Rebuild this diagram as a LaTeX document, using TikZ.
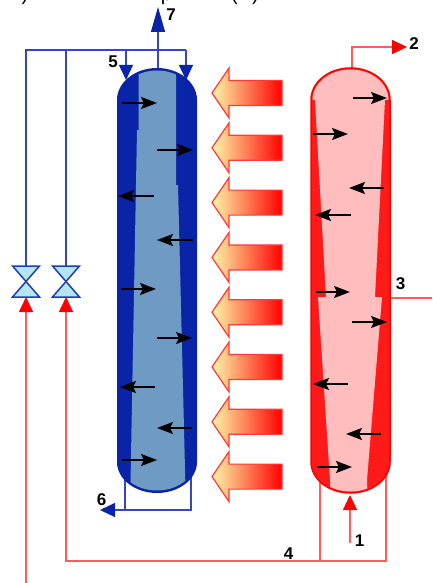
\documentclass[tikz,border=0pt]{standalone}
\usepackage{fontspec}
\setmainfont{Liberation Sans}
\usetikzlibrary{arrows.meta}
\definecolor{deepblue}{HTML}{0A24A8}
\definecolor{steel}{HTML}{6F9AC4}
\definecolor{pipeblue}{HTML}{3347C2}
\definecolor{hotred}{HTML}{FF1A1A}
\definecolor{pinkfill}{HTML}{FFBDBD}
\definecolor{pipered}{HTML}{FF5C5C}
\definecolor{valvefill}{HTML}{B3E6EE}
\definecolor{valveline}{HTML}{1F3FB0}
\definecolor{paleyellow}{HTML}{FFF6A8}
\definecolor{warmorange}{HTML}{FFDC98}
\definecolor{heatedge}{HTML}{FF3A3A}

% column outlines (outer and slightly inset, for clipping the inner bands)
\def\bluecolumn{(117,100) arc[start angle=180,end angle=0,x radius=40pt,y radius=32pt] -- (197,462) arc[start angle=0,end angle=-180,x radius=40pt,y radius=31pt] -- cycle}
\def\bluecore{(119.5,100) arc[start angle=180,end angle=0,x radius=37.5pt,y radius=29.5pt] -- (194.5,462) arc[start angle=0,end angle=-180,x radius=37.5pt,y radius=28.5pt] -- cycle}
\def\redcolumn{(311,100) arc[start angle=180,end angle=0,x radius=39.5pt,y radius=32pt] -- (390,462) arc[start angle=0,end angle=-180,x radius=39.5pt,y radius=31pt] -- cycle}
\def\redcore{(312.5,100) arc[start angle=180,end angle=0,x radius=38pt,y radius=30.5pt] -- (388.5,462) arc[start angle=0,end angle=-180,x radius=38pt,y radius=29.5pt] -- cycle}

\begin{document}
\begin{tikzpicture}[x=1pt,y=-1pt,
  bluepipe/.style={draw=pipeblue,line width=1.3pt},
  redpipe/.style={draw=pipered,line width=1.3pt},
  bluehead/.style={-{Triangle[width=14pt,length=15pt,color=deepblue]}},
  redhead/.style={-{Triangle[width=14pt,length=15pt,color=red]}},
  flowarrow/.style={line width=2.2pt,-{Stealth[length=16pt,width=12pt,inset=3pt]}},
  heatarrow/.style={draw=heatedge,line width=1.2pt,line join=miter,
    left color=paleyellow,middle color=warmorange,right color=red},
  valve/.style={fill=valvefill,draw=valveline,line width=1.5pt,line join=miter},
  lbl/.style={font=\fontsize{17}{17}\selectfont\bfseries,inner sep=0pt},
  captionbit/.style={font=\fontsize{20}{20}\selectfont,anchor=base,inner sep=0pt}]

\useasboundingbox (0,0) rectangle (432,583);
\clip (0,0) rectangle (432,583);

% lower edge of the caption line above
\node[captionbit] (cap1) at (25,1) {)};
\node[captionbit] (cap2) at (166.5,1) {p};
\node[captionbit] (cap3) at (234.5,1) {(};
\node[captionbit] (cap4) at (255.5,1) {)};

% ---- blue piping ----
\coordinate (vA) at (26,266);
\coordinate (vB) at (66,266);
\draw[bluepipe] (vA) -- (26,50) -- (186,50);
\draw[bluepipe] (vB) -- (66,50);
\draw[bluepipe,bluehead] (126,50) -- (126,80);
\draw[bluepipe,bluehead] (186,50) -- (186,80);
\draw[bluepipe,-{Triangle[width=14pt,length=25pt,color=deepblue]}] (158,80) -- (158,7);
\draw[bluepipe] (125,462) -- (125,510);
\draw[bluepipe,bluehead] (191,462) -- (191,510) -- (100,510);

% ---- red piping ----
\coordinate (vAin) at (26,297);
\coordinate (vBin) at (66,297);
\draw[redpipe,redhead] (26,583) -- (vAin);
\draw[redpipe,redhead] (386,462) -- (386,561) -- (66,561) -- (vBin);
\draw[redpipe] (320,462) -- (320,561);
\draw[redpipe] (380,298) -- (432,298);
\draw[redpipe,redhead] (352,80) -- (352,47) -- (407,47);
\draw[redpipe,redhead] (350,543) -- (350,495);

% ---- cold column ----
\fill[deepblue] \bluecolumn;
\begin{scope}
  \clip \bluecore;
  \fill[steel] (138.5,40) -- (176,40) -- (176,185) -- (178,185) -- (186,510)
    -- (130,510) -- (137,130) -- (138.5,130) -- cycle;
\end{scope}

% ---- hot column ----
\fill[hotred] \redcolumn;
\begin{scope}
  \clip \redcore;
  \fill[pinkfill] (300,40) -- (400,40) -- (400,100) -- (385,100) -- (375,297)
    -- (382,297) -- (367,480) -- (368,510) -- (330,510) -- (330,480)
    -- (318,297) -- (326,297) -- (315,100) -- (300,100) -- cycle;
\end{scope}
\draw[red,line width=1.5pt] \redcolumn;

% ---- internal flow arrows ----
\foreach \xa/\xb/\yy in {122/157/103, 157/193/150, 154/118/196, 193/157/240,
    121/156/289, 157/192/338, 155/120/387, 192/157/428, 122/157/460,
    353/387/98, 313/348/134, 384/349/188, 351/315/215, 316/350/292,
    352/387/322, 348/313/384, 381/346/434, 317/352/467}
  \draw[flowarrow] (\xa,\yy) -- (\xb,\yy);

% ---- heat transfer arrows ----
\foreach \i in {0,...,7}{
  \pgfmathsetmacro\c{93+54.8*\i}
  \draw[heatarrow] (212,\c) -- (229,\c-25) -- (229,\c-12.5) -- (282,\c-12.5)
    -- (282,\c+12.5) -- (229,\c+12.5) -- (229,\c+25) -- cycle;
}

% ---- valves ----
\foreach \vx in {26,66}
  \draw[valve] (\vx-13.5,266) -- (\vx+13.5,266) -- (\vx-13.5,297)
    -- (\vx+13.5,297) -- cycle;

% ---- stream labels ----
\node[lbl] (n7) at (171,14.5) {7};
\node[lbl] (n5) at (113,62) {5};
\node[lbl] (n2) at (414,44) {2};
\node[lbl] (n3) at (400.5,283.5) {3};
\node[lbl] (n6) at (101.5,499.5) {6};
\node[lbl] (n1) at (359.5,540.5) {1};
\node[lbl] (n4) at (288.5,554) {4};
\end{tikzpicture}
\end{document}
